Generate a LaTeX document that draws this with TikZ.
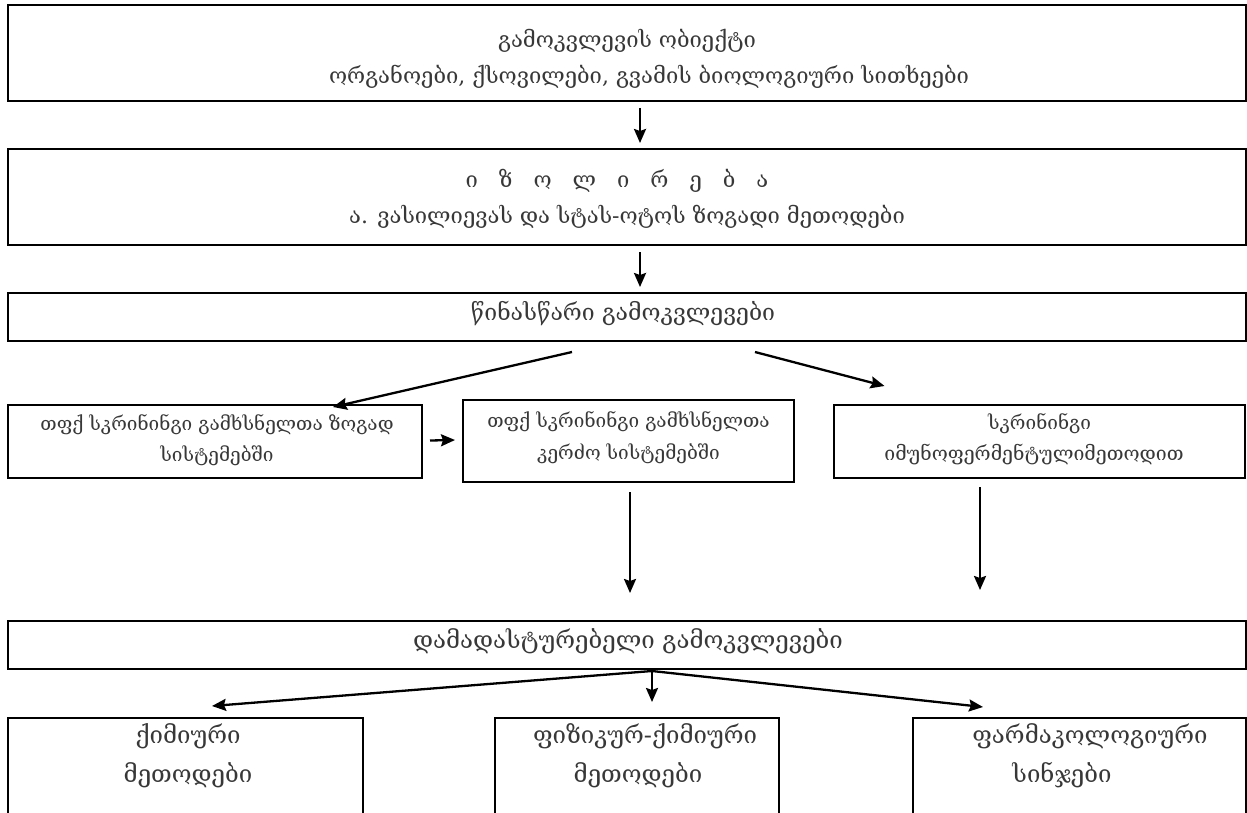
\documentclass[tikz,border=0pt]{standalone}
\usepackage{fontspec}
\newfontfamily\geo{DejaVu Serif}
\usetikzlibrary{arrows.meta,calc}
\begin{document}
\begin{tikzpicture}[x=1pt,y=-1pt,
  box/.style={draw=black, line width=1.8pt, inner sep=0pt, outer sep=0pt},
  txt/.style={anchor=base, inner sep=0pt, text=black!78, font=\geo\fontsize{#1}{#1}\selectfont},
  txt/.default=22,
  arr/.style={line width=2.3pt, -{Stealth[length=14pt, width=12pt, inset=2pt]}}]
\useasboundingbox (0,0) rectangle (1247,813);
\clip (0,0) rectangle (1247,813);

% frames
\node[box, minimum width=1238, minimum height=96] (b1) at (627,53) {};
\node[box, minimum width=1238, minimum height=96] (b2) at (627,197) {};
\node[box, minimum width=1238, minimum height=48] (b3) at (627,317) {};
\node[box, minimum width=414, minimum height=73] (b4) at (215,441.5) {};
\node[box, minimum width=331, minimum height=82] (b5) at (628.5,441) {};
\node[box, minimum width=411, minimum height=73] (b6) at (1039.5,441.5) {};
\node[box, minimum width=1238, minimum height=48] (b7) at (627,645) {};
\node[box, minimum width=355, minimum height=120] (b8) at (185.5,778) {};
\node[box, minimum width=284, minimum height=120] (b9) at (637,778) {};
\node[box, minimum width=333, minimum height=120] (b10) at (1079.5,778) {};

% labels
\node[txt] (t1a) at (627,48) {გამოკვლევის ობიექტი};
\node[txt] (t1b) at (649,84) {ორგანოები, ქსოვილები, გვამის ბიოლოგიური სითხეები};
\node[txt] (t2a) at (617,188) {ი\hspace{21pt}ზ\hspace{21pt}ო\hspace{21pt}ლ\hspace{21pt}ი\hspace{21pt}რ\hspace{21pt}ე\hspace{21pt}ბ\hspace{21pt}ა};
\node[txt] (t2b) at (627,223) {ა. ვასილიევას და სტას-ოტოს ზოგადი მეთოდები};
\node[txt=23] (t3) at (623,320) {წინასწარი გამოკვლევები};
\node[txt=19] (t4a) at (217,430) {თფქ სკრინინგი გამხსნელთა ზოგად};
\node[txt=19] (t4b) at (217,461) {სისტემებში};
\node[txt=19] (t5a) at (628.5,427) {თფქ სკრინინგი გამხსნელთა};
\node[txt=19] (t5b) at (628.5,459) {კერძო სისტემებში};
\node[txt=19] (t6a) at (1039.5,429) {სკრინინგი};
\node[txt=19.5] (t6b) at (1034,460) {იმუნოფერმენტულიმეთოდით};
\node[txt=24] (t7) at (628,648) {დამადასტურებელი გამოკვლევები};
\node[txt=24] (t8a) at (188,743) {ქიმიური};
\node[txt=24] (t8b) at (188,782) {მეთოდები};
\node[txt=24] (t9a) at (645,743) {ფიზიკურ-ქიმიური};
\node[txt=24] (t9b) at (638,782) {მეთოდები};
\node[txt=24] (t10a) at (1090,743) {ფარმაკოლოგიური};
\node[txt=24] (t10b) at (1062,782) {სინჯები};

% free ends of the slanted connectors
\coordinate (s3l) at ($(b3.south)+(-55,11)$);
\coordinate (s3r) at ($(b3.south)+(128,11)$);
\coordinate (e4) at ($(b4.north)+(118,2)$);
\coordinate (e6) at ($(b6.north)+(-155,-19)$);
\coordinate (fork) at ($(b7.south)+(25,2)$);
\coordinate (e8) at ($(b8.north)+(26.5,-12)$);
\coordinate (e9) at ($(b9.north)+(15,-16)$);
\coordinate (e10) at ($(b10.north)+(-96.5,-11)$);

% connectors
\draw[arr] ($(b1.south)+(13,7)$) -- ($(b2.north)+(13,-6)$);
\draw[arr] ($(b2.south)+(13,7)$) -- ($(b3.north)+(13,-6)$);
\draw[arr] (s3l) -- (e4);
\draw[arr] (s3r) -- (e6);
\draw[arr] ($(b4.east)+(8,-1)$) -- ($(b5.west)+(-8,-1)$);
\draw[arr] ($(b5.south)+(1.5,10)$) -- ($(b7.north)+(3,-28)$);
\draw[arr] ($(b6.south)+(-59.5,9)$) -- ($(b7.north)+(353,-31)$);
\draw[arr] (fork) -- (e8);
\draw[arr] (fork) -- (e9);
\draw[arr] (fork) -- (e10);
\end{tikzpicture}
\end{document}
